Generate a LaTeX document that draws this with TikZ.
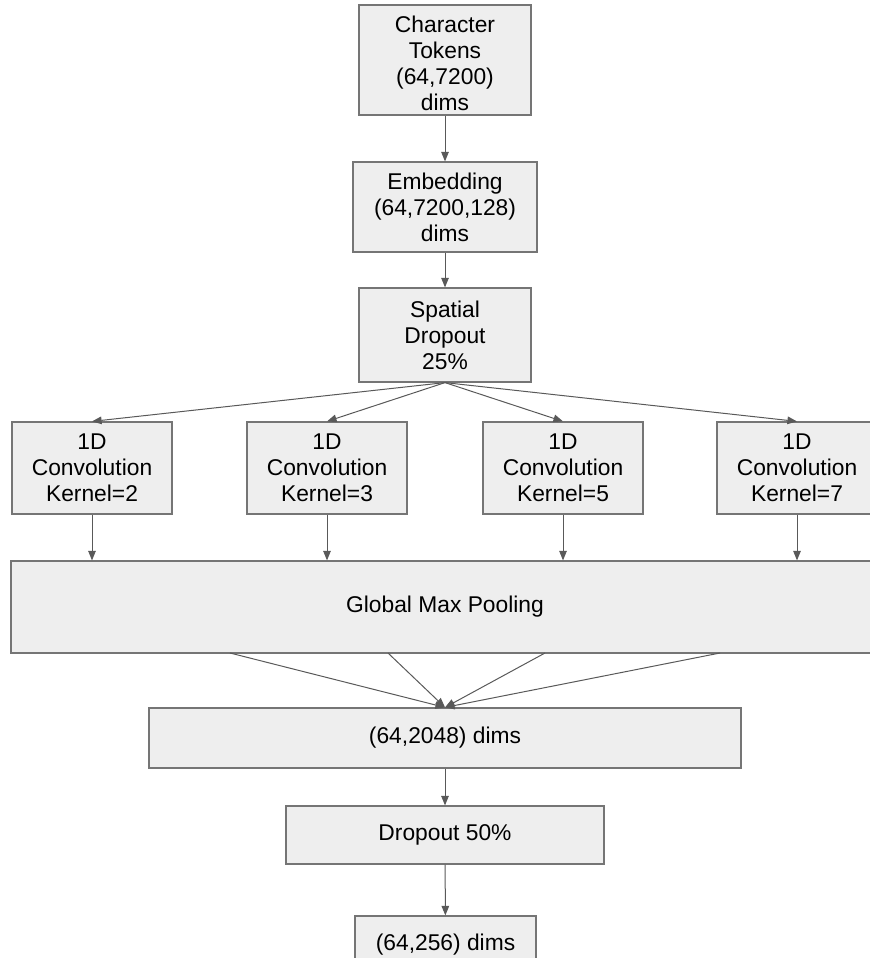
\documentclass[tikz,border=0pt]{standalone}
\usepackage{fontspec}
\setmainfont{Liberation Sans}
\usetikzlibrary{arrows.meta,positioning,calc}

\definecolor{boxfill}{HTML}{EEEEEE}
\definecolor{boxline}{HTML}{757575}
\definecolor{flowline}{HTML}{595959}

\tikzset{
  layer/.style={draw=boxline,fill=boxfill,line width=0.6pt,align=center,inner sep=0pt,
    font=\fontsize{11.4}{13}\selectfont},
  flow/.style={draw=flowline,line width=0.5pt,-{Triangle[length=4.8pt,width=3.8pt]}}
}

\begin{document}
\begin{tikzpicture}[x=0.5pt,y=-0.5pt]
\useasboundingbox (0,0) rectangle (870,958);
\clip (0,0) rectangle (870,958);

\node[layer,minimum width=86pt,minimum height=55pt] (tokens) at (445,60) {\rule{0pt}{12pt}Character\\Tokens\\(64,7200)\\dims};%
\node[layer,minimum width=92pt,minimum height=45pt] (embed) at (445,207) {Embedding\\(64,7200,128)\\dims};%
\node[layer,minimum width=86pt,minimum height=47pt] (spatial) at (445,335) {Spatial\\Dropout\\25\%};%

\foreach \n/\x/\k in {1/92/2,2/327/3,3/563/5,4/797/7}
  \node[layer,minimum width=80pt,minimum height=46pt] (conv\n) at (\x,468) {1D\\Convolution\\Kernel=\k};

\node[layer,minimum width=434pt,minimum height=46pt] (gmp) at (445,607) {Global Max Pooling};%
\node[layer,minimum width=296pt,minimum height=30pt] (pooled) at (445,738) {(64,2048) dims};%
\node[layer,minimum width=159pt,minimum height=29pt] (dropout) at (445,835) {Dropout 50\%};%
\node[layer,minimum width=90.5pt,minimum height=29pt] (dense) at (445.5,945) {(64,256) dims};%

\draw[flow] (tokens) -- (embed);
\draw[flow] (embed) -- (spatial);

\foreach \n in {1,...,4}{
  \draw[flow] (spatial.south) -- (conv\n.north);
  \draw[flow] (conv\n.south) -- (conv\n.south |- gmp.north);
}

%% lines out of the pooling box
\foreach \n/\x in {1/230,2/388,3/545,4/720}{
  \coordinate (out\n) at (\x,653);
  \draw[flow] (out\n) -- (pooled.north);
}

\draw[flow] (pooled) -- (dropout);
\draw[flow] (dropout) -- (dense);

\end{tikzpicture}
\end{document}
